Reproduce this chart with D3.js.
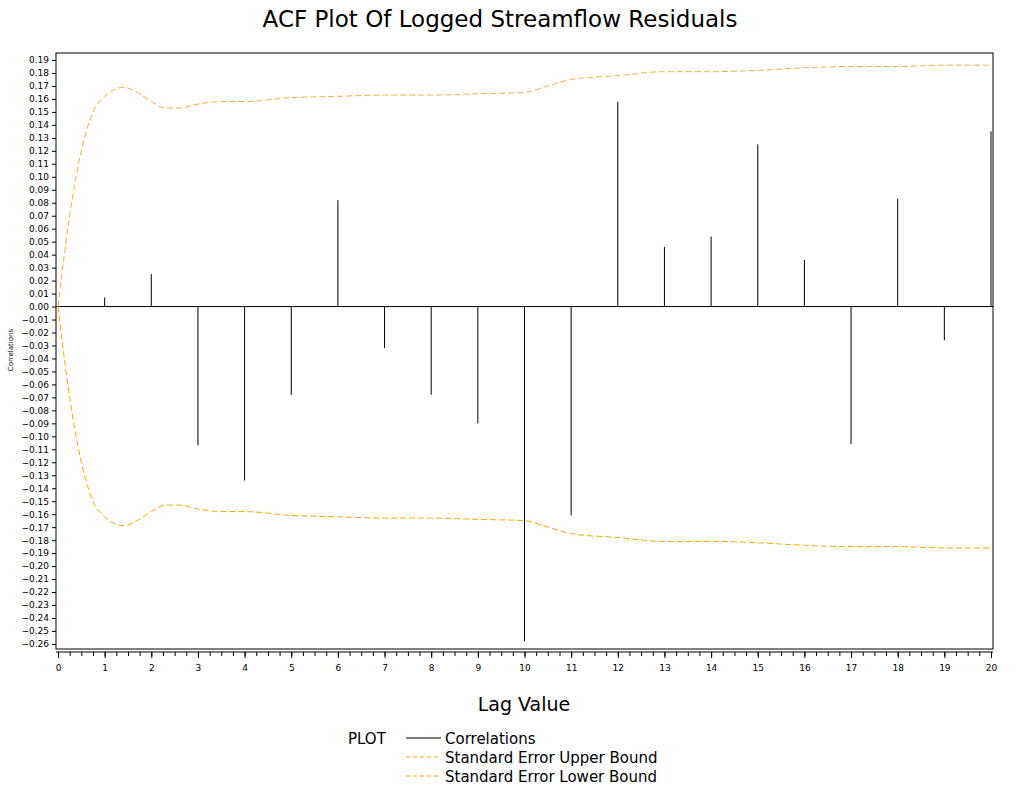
<!DOCTYPE html>
<html><head><meta charset="utf-8">
<script src="https://cdn.jsdelivr.net/npm/d3@7"></script>
<style>body{margin:0;background:#fff}text{font-family:"DejaVu Sans",Verdana,sans-serif}</style>
</head><body>
<script>
var lags = d3.range(1, 21);
var correlations = [0.007, 0.025, -0.107, -0.134, -0.068, 0.082, -0.032, -0.068, -0.090, -0.258,
  -0.161, 0.158, 0.046, 0.054, 0.125, 0.036, -0.106, 0.083, -0.026, 0.135];
var boundLags = [0, 0.25, 0.5, 0.75, 1, 1.2, 1.4, 1.7, 2, 2.3, 2.6, 3, 3.5, 4, 5, 6, 7, 8, 9, 10, 10.5, 11, 12, 13, 14, 15, 16, 17, 18, 19, 20];
var upperBound = [0, 0.07, 0.12, 0.15, 0.162, 0.167, 0.169, 0.165, 0.158, 0.153, 0.153, 0.156, 0.158, 0.158, 0.161, 0.162, 0.163, 0.163, 0.164, 0.165, 0.170, 0.175, 0.178, 0.181, 0.181, 0.182, 0.184, 0.185, 0.185, 0.186, 0.186];
var yTicks = d3.range(-26, 20).map(function(d) { return d / 100; });

var svg = d3.select("body").append("svg").attr("width", 1016).attr("height", 806);

var x = d3.scaleLinear().domain([0, 20]).range([58, 991]);
var y = d3.scaleLinear().domain([-0.2639, 0.1954]).range([649, 53]);

svg.append("rect").attr("x", 56).attr("y", 53).attr("width", 937).attr("height", 596)
  .attr("fill", "none").attr("stroke", "#000");

svg.append("g").attr("transform", "translate(56,0)")
  .call(d3.axisLeft(y).tickValues(yTicks).tickSize(4).tickFormat(function(d) {
    return d === 0 ? "0.00" : d3.format(".2f")(d);
  }))
  .call(function(g) { g.select(".domain").remove(); g.selectAll("text").attr("font-size", 9).attr("font-family", "DejaVu Sans"); });

svg.append("g").attr("transform", "translate(0,652)")
  .call(d3.axisBottom(x).tickValues(d3.range(0, 20.01, 0.25)).tickSize(4).tickFormat(""))
  .call(function(g) { g.select(".domain").attr("d", "M56,0H993"); });
svg.append("g").attr("transform", "translate(0,652)")
  .call(d3.axisBottom(x).tickValues(d3.range(0, 21)).tickSize(6).tickFormat(d3.format("d")))
  .call(function(g) { g.select(".domain").remove(); g.selectAll("text").attr("font-size", 9).attr("font-family", "DejaVu Sans").attr("dy", "1.1em"); });

svg.append("line").attr("x1", 56).attr("x2", 993).attr("y1", y(0)).attr("y2", y(0)).attr("stroke", "#000");

svg.selectAll(".bar").data(lags).enter().append("line")
  .attr("x1", function(d) { return x(d); }).attr("x2", function(d) { return x(d); })
  .attr("y1", y(0)).attr("y2", function(d, i) { return y(correlations[i]); })
  .attr("stroke", "#000");

var line = d3.line().curve(d3.curveMonotoneX).x(function(d) { return x(d[0]); }).y(function(d) { return y(d[1]); });
svg.append("path").datum(boundLags.map(function(l, i) { return [l, upperBound[i]]; }))
  .attr("d", line).attr("fill", "none").attr("stroke", "#f5b040").attr("stroke-dasharray", "6,3");
svg.append("path").datum(boundLags.map(function(l, i) { return [l, -upperBound[i]]; }))
  .attr("d", line).attr("fill", "none").attr("stroke", "#FFA500").attr("stroke-dasharray", "6,3");

svg.append("text").attr("x", 500).attr("y", 27).attr("text-anchor", "middle").attr("font-size", 23).text("ACF Plot Of Logged Streamflow Residuals");
svg.append("text").attr("x", 524).attr("y", 711).attr("text-anchor", "middle").attr("font-size", 19).text("Lag Value");
svg.append("text").attr("transform", "translate(13,350) rotate(-90)").attr("text-anchor", "middle").attr("font-size", 7).text("Correlations");

var legend = [["Correlations", "#000", null], ["Standard Error Upper Bound", "#FFA500", "4,3"], ["Standard Error Lower Bound", "#FFA500", "4,3"]];
svg.append("text").attr("x", 348).attr("y", 744).attr("font-size", 15).text("PLOT");
legend.forEach(function(l, i) {
  var yy = 738 + i * 19;
  svg.append("line").attr("x1", 406).attr("x2", 441).attr("y1", yy).attr("y2", yy)
    .attr("stroke", l[1]).attr("stroke-dasharray", l[2]);
  svg.append("text").attr("x", 445).attr("y", yy + 6).attr("font-size", 15).text(l[0]);
});
</script>
</body></html>
